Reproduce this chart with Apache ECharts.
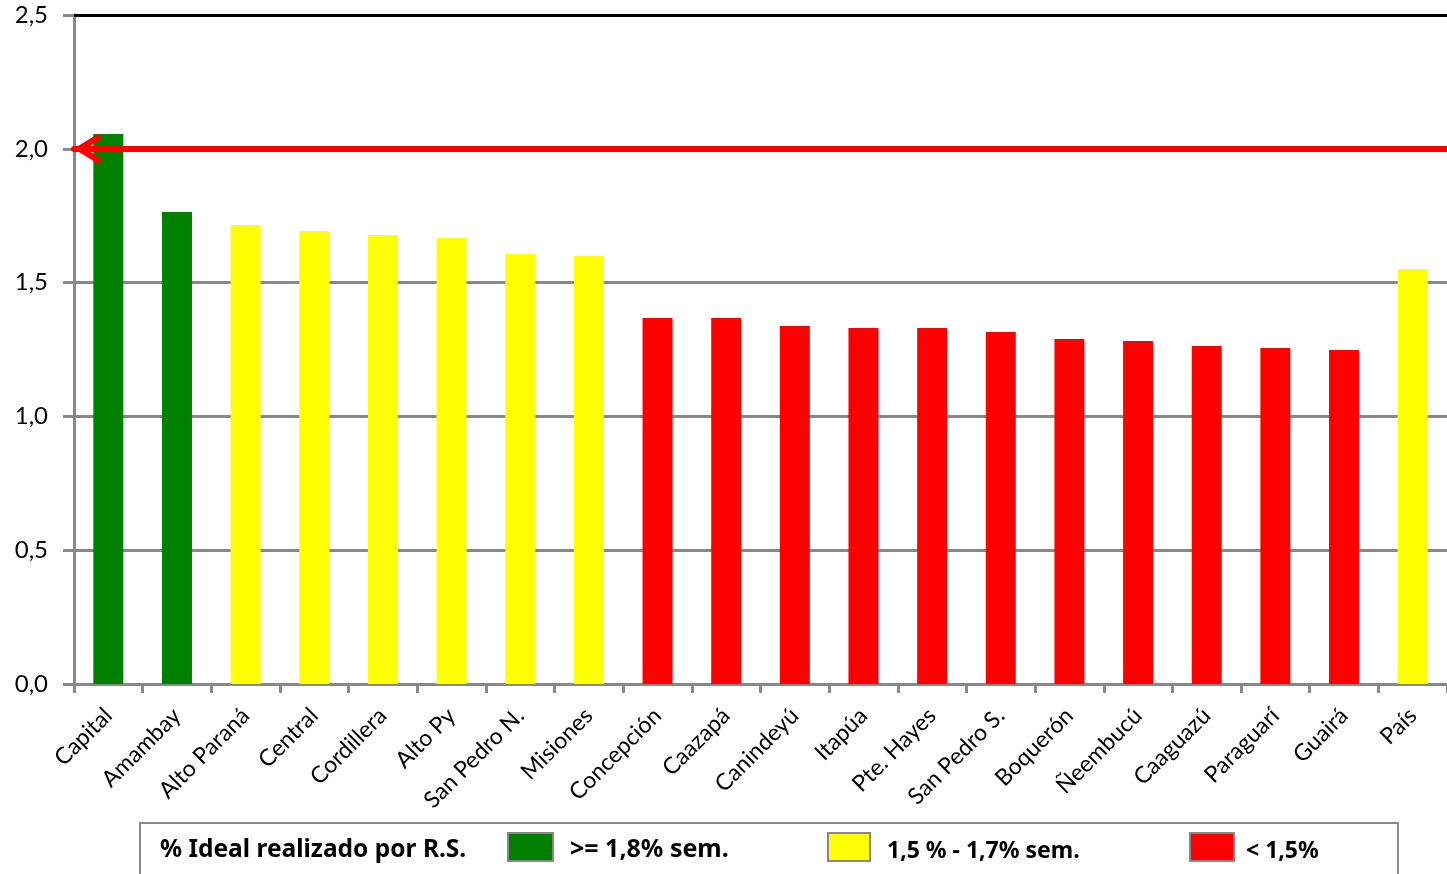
<!DOCTYPE html>
<html>
<head>
<meta charset="utf-8">
<script src="https://cdn.jsdelivr.net/npm/echarts@6/dist/echarts.min.js"></script>
<style>html,body{margin:0;padding:0;background:#fff;}#c{width:1447px;height:874px;}</style>
</head>
<body>
<div id="c"></div>
<script>
const categories = ['Capital','Amambay','Alto Paraná','Central','Cordillera','Alto Py','San Pedro N.','Misiones','Concepción','Caazapá','Canindeyú','Itapúa','Pte. Hayes','San Pedro S.','Boquerón','Ñeembucú','Caaguazú','Paraguarí','Guairá','País'];
const values = [2.055,1.764,1.715,1.693,1.678,1.667,1.608,1.599,1.368,1.368,1.338,1.330,1.330,1.315,1.289,1.282,1.263,1.256,1.248,1.551];
const idealLine = 2.0;
const topLine = 2.5;
const legendTitle = '% Ideal realizado por R.S.';
const legendLabels = ['>= 1,8% sem.','1,5 % - 1,7% sem.','< 1,5%'];

const GREEN='#008000', YELLOW='#ffff00', RED='#ff0000';
function colorFor(v){ return v >= 1.75 ? GREEN : (v >= 1.5 ? YELLOW : RED); }

const chart = echarts.init(document.getElementById('c'), null, {renderer:'canvas'});
const arrowPath = 'path://M15,0L30,24.5L25.5,29L15,12L4.5,29L0,24.5Z';

const legendFont = '"Noto Sans", sans-serif';
chart.setOption({
  animation:false,
  grid:{left:74, right:0, top:15, bottom:190, containLabel:false},
  xAxis:{
    type:'category', data:categories,
    axisLine:{lineStyle:{color:'#888', width:3}},
    axisTick:{show:true, length:9, lineStyle:{color:'#888', width:3}, alignWithLabel:false},
    axisLabel:{rotate:45, color:'#000', fontSize:23, fontFamily:'Lato, sans-serif', margin:28, interval:0}
  },
  yAxis:{
    type:'value', min:0, max:2.5, interval:0.5,
    axisLine:{show:true, lineStyle:{color:'#888', width:3}},
    axisTick:{show:true, length:11, lineStyle:{color:'#888', width:3}},
    axisLabel:{color:'#000', fontSize:24, fontFamily:'Lato, sans-serif', margin:26,
      formatter:v=>v.toFixed(1).replace('.',',')},
    splitLine:{show:true, lineStyle:{color:'#888', width:3}}
  },
  series:[{
    type:'bar', data:values.map(v=>({value:v, itemStyle:{color:colorFor(v)}})),
    barWidth:30, silent:true, z:2,
    markLine:{
      silent:true, animation:false, z:5,
      symbol:[arrowPath,'none'], symbolSize:[30,29], symbolOffset:[[0,14],[0,0]],
      label:{show:false},
      lineStyle:{color:'#ff0000', width:6, type:'solid', cap:'round'},
      data:[{yAxis:idealLine}]
    }
  },{
    type:'line', data:values, showSymbol:false, silent:true,
    lineStyle:{opacity:0, width:0}, z:1,
    markLine:{
      silent:true, animation:false, symbol:['none','none'],
      label:{show:false},
      lineStyle:{color:'#000', width:3, type:'solid'},
      data:[{yAxis:topLine}]
    }
  }],
  graphic:[
    {type:'rect', shape:{x:140, y:823, width:1258, height:70}, style:{fill:'#fff', stroke:'#888', lineWidth:2}},
    {type:'text', x:160, y:850, style:{text:legendTitle, font:'bold 24.5px '+legendFont, fill:'#000', textVerticalAlign:'middle'}},
    {type:'rect', shape:{x:508, y:833, width:45, height:28}, style:{fill:GREEN, stroke:'#888', lineWidth:2}},
    {type:'text', x:570, y:850, style:{text:legendLabels[0], font:'bold 25px '+legendFont, fill:'#000', textVerticalAlign:'middle'}},
    {type:'rect', shape:{x:828, y:833, width:42, height:28}, style:{fill:YELLOW, stroke:'#888', lineWidth:2}},
    {type:'text', x:887, y:851, style:{text:legendLabels[1], font:'bold 23px '+legendFont, fill:'#000', textVerticalAlign:'middle'}},
    {type:'rect', shape:{x:1190, y:833, width:44, height:28}, style:{fill:RED, stroke:'#888', lineWidth:2}},
    {type:'text', x:1246, y:851, style:{text:legendLabels[2], font:'bold 23px '+legendFont, fill:'#000', textVerticalAlign:'middle'}}
  ]
});
</script>
</body>
</html>
